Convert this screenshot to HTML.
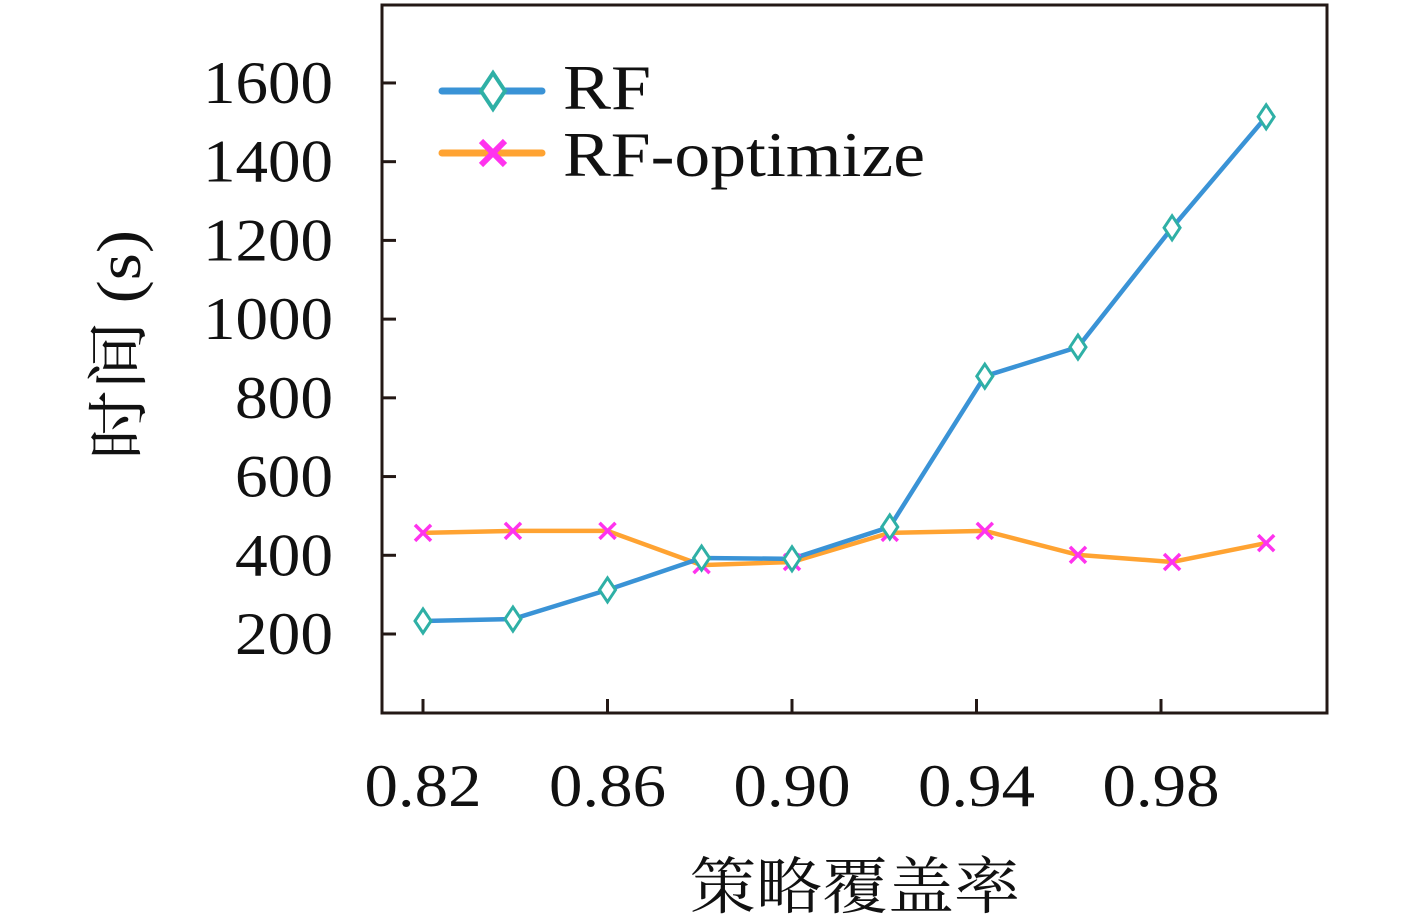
<!DOCTYPE html>
<html><head><meta charset="utf-8"><style>
html,body{margin:0;padding:0;background:#fff}
svg{display:block}
text{font-family:"Liberation Serif","Noto Serif CJK SC",serif;fill:#111}
</style></head><body>
<svg width="1417" height="924" xmlns="http://www.w3.org/2000/svg">
<g id="axes"></g>
<g id="series"></g>
<g>
  <line x1="442" y1="91" x2="542" y2="91" stroke="#3a93d6" stroke-width="7" stroke-linecap="round"/>
  <polygon points="493,73 505,91 493,109 481,91" fill="#fff" stroke="#2fb0a6" stroke-width="4"/>
  <text x="563" y="109" font-size="64" textLength="88" lengthAdjust="spacingAndGlyphs">RF</text>
  <line x1="442" y1="153" x2="542" y2="153" stroke="#ffa332" stroke-width="7" stroke-linecap="round"/>
  <path d="M481,141 L505,165 M505,141 L481,165" stroke="#ff33ee" stroke-width="6"/>
  <text x="563" y="176" font-size="64" textLength="362" lengthAdjust="spacingAndGlyphs">RF-optimize</text>
</g>
<text x="855" y="908" font-size="62" text-anchor="middle" textLength="330" lengthAdjust="spacingAndGlyphs">策略覆盖率</text>
<text transform="translate(140,345) rotate(-90)" font-size="62" text-anchor="middle" textLength="230" lengthAdjust="spacingAndGlyphs">时间 (s)</text>
</svg>
<script>
const xCats = [0.82, 0.8395, 0.86, 0.8804, 0.90, 0.9212, 0.9418, 0.962, 0.9824, 1.0028];
const rfValues = [233, 238, 312, 393, 391, 472, 855, 929, 1232, 1514];
const optValues = [457, 462, 462, 375, 383, 457, 462, 401, 383, 431];
const yTicks = [200, 400, 600, 800, 1000, 1200, 1400, 1600];
const xTicks = [0.82, 0.86, 0.90, 0.94, 0.98];
const xTickLabels = ["0.82", "0.86", "0.90", "0.94", "0.98"];

const NS = "http://www.w3.org/2000/svg";
const L = 382, R = 1327, T = 5, B = 713;
const xS = v => 423 + (v - 0.82) * 4612.5;
const yS = v => 634 - (v - 200) * 0.3936;
function mk(tag, attrs, parent) {
  const e = document.createElementNS(NS, tag);
  for (const k in attrs) e.setAttribute(k, attrs[k]);
  parent.appendChild(e);
  return e;
}
const axes = document.getElementById('axes');
const frame = mk('rect', {x: L, y: T, width: R - L, height: B - T, fill: 'none', stroke: '#231815', 'stroke-width': 3}, axes);


yTicks.forEach(v => {
  const y = yS(v);
  const t = mk('line', {x1: L, x2: L + 14, y1: y, y2: y, stroke: '#231815', 'stroke-width': 3}, axes);
  
  
  const s = String(v);
  const lb = mk('text', {x: 333, y: y + 20, 'font-size': 60, 'text-anchor': 'end', textLength: s.length === 4 ? 130 : 98, lengthAdjust: 'spacingAndGlyphs'}, axes);
  lb.textContent = s;
  
  
});
xTicks.forEach((v, i) => {
  const x = xS(v);
  const t = mk('line', {x1: x, x2: x, y1: B, y2: B - 14, stroke: '#231815', 'stroke-width': 3}, axes);
  
  
  const lb = mk('text', {x: x, y: 806, 'font-size': 60, 'text-anchor': 'middle', textLength: 117, lengthAdjust: 'spacingAndGlyphs'}, axes);
  lb.textContent = xTickLabels[i];
  
  
});
const sg = document.getElementById('series');
function pts(vals) { return vals.map((v, i) => xS(xCats[i]) + ',' + yS(v)).join(' '); }
const l2 = mk('polyline', {points: pts(optValues), fill: 'none', stroke: '#ffa332', 'stroke-width': 4.5}, sg);


const l1 = mk('polyline', {points: pts(rfValues), fill: 'none', stroke: '#3a93d6', 'stroke-width': 4.5}, sg);


optValues.forEach((v, i) => {
  const x = xS(xCats[i]), y = yS(v);
  const m = mk('path', {d: `M${x-8},${y-8} L${x+8},${y+8} M${x+8},${y-8} L${x-8},${y+8}`, stroke: '#ff33ee', 'stroke-width': 3.5}, sg);
  
  
});
rfValues.forEach((v, i) => {
  const x = xS(xCats[i]), y = yS(v);
  const m = mk('polygon', {points: `${x},${y-12} ${x+8},${y} ${x},${y+12} ${x-8},${y}`, fill: '#fff', stroke: '#2fb0a6', 'stroke-width': 3}, sg);
  
  
});
</script>
</body></html>
